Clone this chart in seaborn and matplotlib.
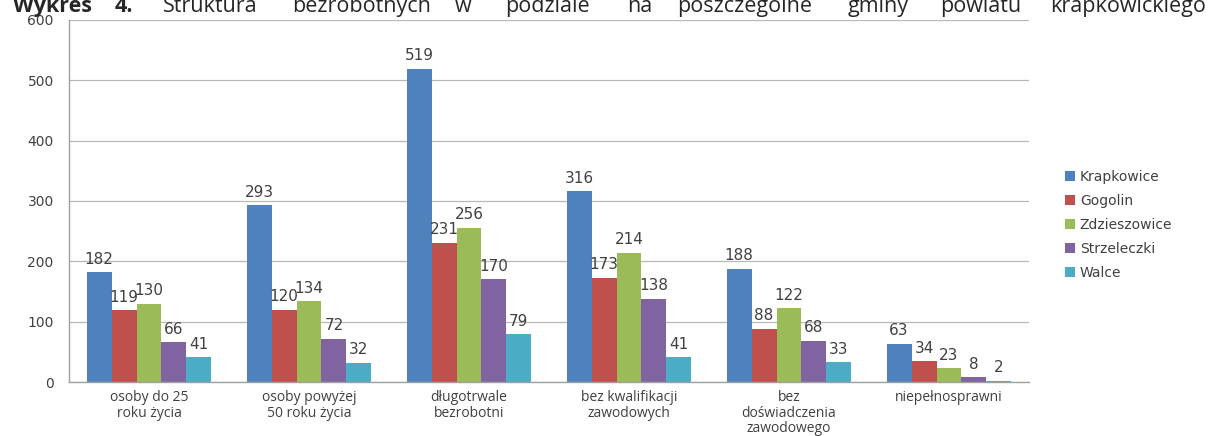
import matplotlib
matplotlib.use("Agg")
import matplotlib.pyplot as plt
import seaborn as sns
import pandas as pd
from matplotlib.ticker import FixedLocator

categories = ["osoby do 25\nroku życia", "osoby powyżej\n50 roku życia", "długotrwale\nbezrobotni",
              "bez kwalifikacji\nzawodowych", "bez\ndoświadczenia\nzawodowego", "niepełnosprawni"]
gminy = ["Krapkowice", "Gogolin", "Zdzieszowice", "Strzeleczki", "Walce"]
krapkowice = [182, 293, 519, 316, 188, 63]
gogolin = [119, 120, 231, 173, 88, 34]
zdzieszowice = [130, 134, 256, 214, 122, 23]
strzeleczki = [66, 72, 170, 138, 68, 8]
walce = [41, 32, 79, 41, 33, 2]
colors = ["#4F81BD", "#C0504D", "#9BBB59", "#8064A2", "#4BACC6"]
yticks = [0, 100, 200, 300, 400, 500, 600]

series = [krapkowice, gogolin, zdzieszowice, strzeleczki, walce]
rows = []
for g, vals in zip(gminy, series):
    for c, v in zip(categories, vals):
        rows.append({"cat": c, "gmina": g, "val": v})
df = pd.DataFrame(rows)

sns.set_style("white")
plt.rcParams['font.family'] = ['DejaVu Sans']

fig = plt.figure(figsize=(12.09, 4.36), dpi=100)
ax = fig.add_axes([69/1209, 1-382/436, 960/1209, 362/436])

sns.barplot(data=df, x="cat", y="val", hue="gmina", order=categories, hue_order=gminy,
            palette=colors, saturation=1, width=0.78, ax=ax, errorbar=None, legend=True,
            linewidth=0, edgecolor="none")

for cont in ax.containers:
    ax.bar_label(cont, padding=4, fontsize=11, color="#404040")

ax.set_ylim(0, 600)
ax.set_xlim(-0.5, 5.5)
ax.set_yticks(yticks)
ax.tick_params(axis="y", labelsize=10, labelcolor="#404040", length=5, color="#A0A0A0", pad=6)
ax.yaxis.grid(True, color="#B8B8B8", linewidth=0.9)
ax.set_axisbelow(True)
ax.set_xlabel("")
ax.set_ylabel("")
ax.set_xticks(range(len(categories)))
ax.set_xticklabels(categories, fontsize=10, color="#404040", linespacing=1.05,
                   family=['Open Sans', 'DejaVu Sans'])
ax.tick_params(axis="x", which="major", length=0, pad=6)
ax.xaxis.set_minor_locator(FixedLocator([i - 0.5 for i in range(len(categories) + 1)]))
ax.tick_params(axis="x", which="minor", length=5, color="#A0A0A0")
for s in ["top", "right"]:
    ax.spines[s].set_visible(False)
for s in ["left", "bottom"]:
    ax.spines[s].set_color("#A0A0A0")
    ax.spines[s].set_linewidth(1.0)

leg = ax.legend(loc="center left", bbox_to_anchor=(1.032, 0.434), frameon=False,
                fontsize=10, handlelength=0.7, handleheight=0.7, handletextpad=0.35,
                labelspacing=0.72, borderaxespad=0)
for t in leg.get_texts():
    t.set_color("#404040")

# Partially clipped header (justified line, top cut off as in the source)
words = [("Wykres", 13, "bold"), ("4.", 115, "bold"), ("Struktura", 163, "normal"),
         ("bezrobotnych", 292, "normal"), ("w", 455, "normal"), ("podziale", 505, "normal"),
         ("na", 627, "normal"), ("poszczególne", 677, "normal"), ("gminy", 848, "normal"),
         ("powiatu", 940, "normal"), ("krapkowickiego", 1050, "normal")]
for w, x, wt in words:
    fig.text(x/1209, 1 - 12/436, w, fontsize=15.5, fontweight=wt, ha="left", va="baseline",
             family=['Open Sans', 'DejaVu Sans'])

fig.savefig("out.png", dpi=100)
